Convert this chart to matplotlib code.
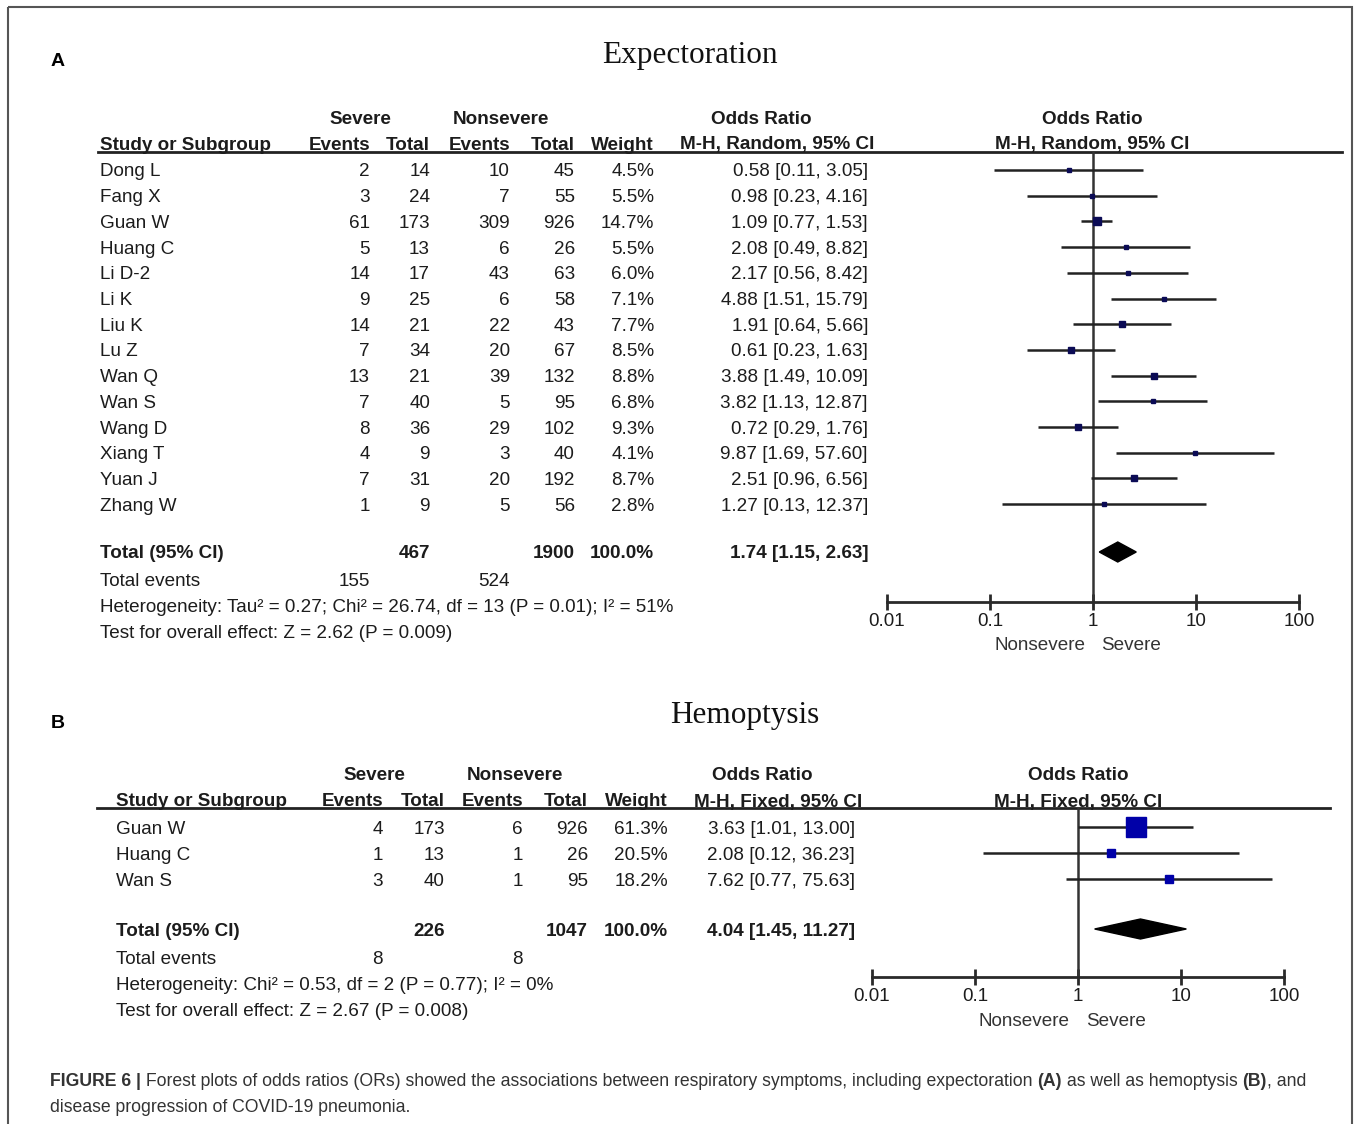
import matplotlib.pyplot as plt
from matplotlib.patches import Rectangle
import numpy as np

W, H = 1357, 1124

# ---- panel A : Expectoration (random effects) ----
studies_a = ['Dong L', 'Fang X', 'Guan W', 'Huang C', 'Li D-2', 'Li K', 'Liu K',
             'Lu Z', 'Wan Q', 'Wan S', 'Wang D', 'Xiang T', 'Yuan J', 'Zhang W']
sev_ev_a = [2, 3, 61, 5, 14, 9, 14, 7, 13, 7, 8, 4, 7, 1]
sev_tot_a = [14, 24, 173, 13, 17, 25, 21, 34, 21, 40, 36, 9, 31, 9]
non_ev_a = [10, 7, 309, 6, 43, 6, 22, 20, 39, 5, 29, 3, 20, 5]
non_tot_a = [45, 55, 926, 26, 63, 58, 43, 67, 132, 95, 102, 40, 192, 56]
weight_a = [4.5, 5.5, 14.7, 5.5, 6.0, 7.1, 7.7, 8.5, 8.8, 6.8, 9.3, 4.1, 8.7, 2.8]
or_a = [0.58, 0.98, 1.09, 2.08, 2.17, 4.88, 1.91, 0.61, 3.88, 3.82, 0.72, 9.87, 2.51, 1.27]
lo_a = [0.11, 0.23, 0.77, 0.49, 0.56, 1.51, 0.64, 0.23, 1.49, 1.13, 0.29, 1.69, 0.96, 0.13]
hi_a = [3.05, 4.16, 1.53, 8.82, 8.42, 15.79, 5.66, 1.63, 10.09, 12.87, 1.76, 57.60, 6.56, 12.37]
total_a = dict(sev_tot=467, non_tot=1900, or_=1.74, lo=1.15, hi=2.63, sev_ev=155, non_ev=524)
het_a = 'Heterogeneity: Tau\u00b2 = 0.27; Chi\u00b2 = 26.74, df = 13 (P = 0.01); I\u00b2 = 51%'
test_a = 'Test for overall effect: Z = 2.62 (P = 0.009)'

# ---- panel B : Hemoptysis (fixed effect) ----
studies_b = ['Guan W', 'Huang C', 'Wan S']
sev_ev_b = [4, 1, 3]
sev_tot_b = [173, 13, 40]
non_ev_b = [6, 1, 1]
non_tot_b = [926, 26, 95]
weight_b = [61.3, 20.5, 18.2]
or_b = [3.63, 2.08, 7.62]
lo_b = [1.01, 0.12, 0.77]
hi_b = [13.00, 36.23, 75.63]
total_b = dict(sev_tot=226, non_tot=1047, or_=4.04, lo=1.45, hi=11.27, sev_ev=8, non_ev=8)
het_b = 'Heterogeneity: Chi\u00b2 = 0.53, df = 2 (P = 0.77); I\u00b2 = 0%'
test_b = 'Test for overall effect: Z = 2.67 (P = 0.008)'

ticks = [0.01, 0.1, 1, 10, 100]
tick_labels = ['0.01', '0.1', '1', '10', '100']

plt.rcParams['font.family'] = ['Liberation Sans', 'DejaVu Sans']
TC = '#1c1c1c'
FS = 13.6

fig = plt.figure(figsize=(W / 100, H / 100), dpi=100)
ax0 = fig.add_axes([0, 0, 1, 1])
ax0.set_xlim(0, W)
ax0.set_ylim(H, 0)
ax0.axis('off')
ax0.add_patch(Rectangle((8, 7), 1344, 1130, fill=False, ec='#555555', lw=1.5, clip_on=False))


def txt(x, y, s, ha='left', bold=False, size=FS, **kw):
    # small downward nudge: va='center' includes descenders
    ax0.text(x, y + 2, s, ha=ha, va='center', fontsize=size, color=kw.pop('color', TC),
             fontweight='bold' if bold else 'normal', **kw)


def panel(letter, title, ly, ty, method, lab_x, cols, ci_r, hdr, rule, rows_y, tot_y,
          studies, sev_ev, sev_tot, non_ev, non_tot, weight, orv, lo, hi, tot,
          het, test, fx, ms_fun, mcol):
    txt(58, ly, letter, ha='center', bold=True, size=14, color='black')
    ax0.text(title[1], ty, title[0], ha='center', va='center', fontsize=22.5,
             family=['Liberation Serif', 'DejaVu Serif'], color='#111111')
    h1, h2 = hdr[0], hdr[1]
    txt(hdr[2], h1, 'Severe', ha='center', bold=True)
    txt(hdr[3], h1, 'Nonsevere', ha='center', bold=True)
    txt(hdr[4], h1, 'Odds Ratio', ha='center', bold=True)
    txt(hdr[5], h1, 'Odds Ratio', ha='center', bold=True)
    txt(lab_x, h2, 'Study or Subgroup', bold=True)
    for c, s in zip(cols, ['Events', 'Total', 'Events', 'Total', 'Weight']):
        txt(c, h2, s, ha='right', bold=True)
    txt(hdr[4] + 16, h2, 'M-H, %s, 95%% CI' % method, ha='center', bold=True)
    txt(hdr[5], h2, 'M-H, %s, 95%% CI' % method, ha='center', bold=True)
    ax0.plot(rule[:2], [rule[2], rule[2]], color='#222222', lw=2)

    for i, s in enumerate(studies):
        y = rows_y[i]
        txt(lab_x, y, s)
        vals = [sev_ev[i], sev_tot[i], non_ev[i], non_tot[i], '%.1f%%' % weight[i]]
        for c, v in zip(cols, vals):
            txt(c, y, str(v), ha='right')
        txt(ci_r, y, '%.2f [%.2f, %.2f]' % (orv[i], lo[i], hi[i]), ha='right')

    txt(lab_x, tot_y, 'Total (95% CI)', bold=True)
    txt(cols[1], tot_y, str(tot['sev_tot']), ha='right', bold=True)
    txt(cols[3], tot_y, str(tot['non_tot']), ha='right', bold=True)
    txt(cols[4], tot_y, '100.0%', ha='right', bold=True)
    txt(ci_r, tot_y, '%.2f [%.2f, %.2f]' % (tot['or_'], tot['lo'], tot['hi']), ha='right', bold=True)
    txt(lab_x, tot_y + 28, 'Total events')
    txt(cols[0], tot_y + 28, str(tot['sev_ev']), ha='right')
    txt(cols[2], tot_y + 28, str(tot['non_ev']), ha='right')
    txt(lab_x, tot_y + 54, het)
    txt(lab_x, tot_y + 80, test)

    # forest plot axes in pixel rows, log odds ratio scale
    l, t, r, b = fx
    ax = fig.add_axes([l / W, 1 - b / H, (r - l) / W, (b - t) / H])
    ax.set_xscale('log')
    ax.set_xlim(0.01, 100)
    ax.set_ylim(b, t)
    ax.patch.set_alpha(0)
    for sp in ['top', 'left', 'right']:
        ax.spines[sp].set_visible(False)
    ax.spines['bottom'].set_linewidth(2)
    ax.spines['bottom'].set_color('#2a2a2a')
    ax.set_yticks([])
    ax.set_xticks(ticks)
    ax.set_xticklabels(tick_labels)
    ax.minorticks_off()
    ax.tick_params(axis='x', direction='inout', length=12, width=2, color='#2a2a2a',
                   labelsize=FS, labelcolor=TC, pad=2)
    ax.axvline(1, color='#333333', lw=1.8)
    ax.hlines(rows_y[:len(studies)], lo, hi, color='#222222', lw=1.8)
    for i in range(len(studies)):
        ax.plot(orv[i], rows_y[i], marker='s', ms=ms_fun(weight[i]), color=mcol, mec=mcol)
    dh = 10
    ax.fill([tot['lo'], tot['or_'], tot['hi'], tot['or_']],
            [tot_y, tot_y - dh, tot_y, tot_y + dh], color='black')
    mid = (l + r) / 2
    txt(mid - 8, b + 42, 'Nonsevere', ha='right', color='#333333')
    txt(mid + 8, b + 42, 'Severe', ha='left', color='#333333')


rows_a = 170 + 25.7 * np.arange(len(studies_a))
panel('A', ('Expectoration', 690), 59, 56, 'Random', 100, [370, 430, 510, 575, 654], 868,
      (117, 143, 360, 501, 761, 1092), (98, 1342, 152), rows_a, 552,
      studies_a, sev_ev_a, sev_tot_a, non_ev_a, non_tot_a, weight_a, or_a, lo_a, hi_a,
      total_a, het_a, test_a, (887, 152, 1299, 602),
      lambda w: 1.8 + 0.25 * w, '#0b0b55')

rows_b = 827 + 26 * np.arange(len(studies_b))
panel('B', ('Hemoptysis', 745), 721, 716, 'Fixed', 116, [383, 445, 523, 588, 668], 855,
      (774, 800, 374, 515, 762, 1078), (97, 1330, 808), rows_b, 929,
      studies_b, sev_ev_b, sev_tot_b, non_ev_b, non_tot_b, weight_b, or_b, lo_b, hi_b,
      total_b, het_b, test_b, (872, 808, 1284, 977),
      lambda w: 1.6 + 0.2 * w, '#0000a8')

# caption with mixed weights
renderer = fig.canvas.get_renderer()
CC = '#333333'
CFS = 12.7


def caption_line(y, parts):
    x = 50
    for s, bold in parts:
        t = ax0.text(x, y, s, ha='left', va='center', fontsize=CFS, color=CC,
                     fontweight='bold' if bold else 'normal')
        bb = t.get_window_extent(renderer=renderer)
        x += bb.width


caption_line(1081, [('FIGURE 6 |', True),
                    (' Forest plots of odds ratios (ORs) showed the associations between respiratory '
                     'symptoms, including expectoration ', False),
                    ('(A)', True), (' as well as hemoptysis ', False), ('(B)', True), (', and', False)])
caption_line(1107, [('disease progression of COVID-19 pneumonia.', False)])

fig.savefig('out.png', dpi=100)
